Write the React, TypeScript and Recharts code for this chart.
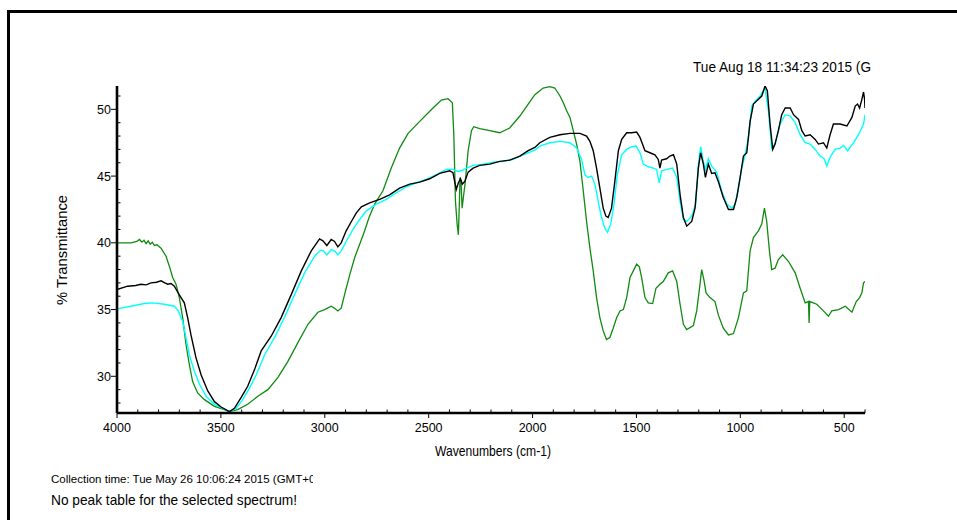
import { LineChart, Line, XAxis, YAxis } from 'recharts'

// FTIR spectra: [wavenumber cm-1, %T]
const blackSpectrum: [number, number][] = [
  [4000, 36.5], [3949, 36.75], [3910, 36.8], [3885, 36.9], [3860, 36.85], [3836, 37.0], [3810, 37.05],
  [3788, 37.15], [3770, 37.0], [3756, 36.9], [3740, 36.95], [3724, 36.75], [3700, 36.1], [3676, 35.5],
  [3660, 34.4], [3644, 33.1], [3620, 31.4], [3595, 30.1], [3563, 28.9], [3531, 28.1], [3499, 27.7],
  [3459, 27.35], [3435, 27.6], [3403, 28.4], [3371, 29.25], [3338, 30.5], [3306, 31.9], [3258, 33.0],
  [3210, 34.4], [3162, 36.1], [3113, 37.9], [3065, 39.4], [3025, 40.3], [3009, 40.15], [2990, 39.8],
  [2969, 40.25], [2953, 40.1], [2937, 39.7], [2921, 40.0], [2897, 40.9], [2872, 41.6], [2848, 42.25],
  [2824, 42.7], [2784, 43.0], [2736, 43.25], [2688, 43.6], [2640, 44.1], [2591, 44.4], [2543, 44.55],
  [2495, 44.8], [2447, 45.2], [2399, 45.4], [2383, 45.25], [2375, 44.6], [2367, 44.0], [2357, 44.5],
  [2347, 44.8], [2338, 44.4], [2326, 44.6], [2310, 45.3], [2286, 45.6], [2254, 45.8], [2206, 45.9],
  [2158, 46.1], [2110, 46.2], [2061, 46.5], [2021, 46.9], [1989, 47.15], [1965, 47.5], [1917, 47.9],
  [1868, 48.1], [1820, 48.2], [1772, 48.2], [1740, 48.0], [1724, 47.6], [1708, 46.9], [1692, 45.6],
  [1676, 44.1], [1660, 42.6], [1647, 42.0], [1636, 41.9], [1620, 42.6], [1604, 44.6], [1587, 46.9],
  [1571, 47.75], [1547, 48.25], [1523, 48.25], [1499, 48.3], [1483, 47.9], [1459, 46.9], [1435, 46.75],
  [1411, 46.6], [1395, 46.25], [1387, 45.6], [1379, 46.2], [1355, 46.3], [1339, 46.5], [1322, 46.6],
  [1306, 45.9], [1290, 43.6], [1274, 41.9], [1258, 41.25], [1234, 41.6], [1218, 42.6], [1202, 45.6],
  [1191, 46.75], [1178, 45.9], [1168, 44.9], [1154, 45.9], [1138, 45.2], [1122, 45.25], [1106, 44.6],
  [1082, 43.4], [1057, 42.5], [1033, 42.5], [1017, 43.4], [1001, 44.9], [985, 46.5], [969, 46.75],
  [953, 49.1], [937, 50.4], [913, 50.75], [897, 51.0], [881, 51.75], [870, 51.4], [857, 48.9],
  [844, 47.0], [833, 47.4], [817, 48.4], [801, 49.6], [784, 50.1], [760, 50.1], [744, 49.6],
  [720, 49.25], [704, 48.4], [688, 48.0], [664, 48.1], [640, 47.75], [624, 47.4], [600, 47.5],
  [584, 47.1], [568, 48.1], [552, 48.9], [520, 48.9], [487, 48.75], [463, 49.4], [447, 50.25],
  [436, 50.4], [426, 50.1], [415, 50.75], [407, 51.3], [402, 50.75], [400, 50.1],
]

const cyanSpectrum: [number, number][] = [
  [4000, 35.05], [3933, 35.25], [3868, 35.45], [3828, 35.5], [3772, 35.4], [3724, 35.25], [3705, 34.9],
  [3684, 34.1], [3668, 32.9], [3652, 31.6], [3628, 30.4], [3603, 29.4], [3571, 28.5], [3531, 27.9],
  [3491, 27.6], [3459, 27.35], [3427, 27.6], [3395, 28.25], [3363, 29.1], [3330, 30.1], [3290, 31.6],
  [3242, 32.9], [3194, 34.4], [3146, 36.1], [3097, 37.75], [3049, 39.0], [3020, 39.45], [3006, 39.4],
  [2990, 39.1], [2969, 39.5], [2953, 39.4], [2937, 39.1], [2921, 39.4], [2897, 40.1], [2864, 41.0],
  [2832, 41.75], [2800, 42.4], [2752, 42.9], [2704, 43.25], [2656, 43.75], [2607, 44.2], [2559, 44.5],
  [2511, 44.75], [2463, 45.1], [2415, 45.5], [2383, 45.5], [2359, 45.35], [2342, 45.4], [2318, 45.6],
  [2286, 45.8], [2238, 45.9], [2190, 46.05], [2142, 46.1], [2094, 46.25], [2045, 46.6], [1989, 46.95],
  [1965, 47.25], [1917, 47.5], [1868, 47.6], [1820, 47.5], [1788, 47.1], [1764, 46.25], [1748, 45.1],
  [1732, 44.9], [1716, 45.0], [1700, 44.4], [1684, 43.1], [1668, 41.9], [1652, 41.1], [1639, 40.8],
  [1624, 41.4], [1608, 42.9], [1592, 45.1], [1571, 46.6], [1547, 47.0], [1523, 47.2], [1502, 47.25],
  [1483, 46.75], [1467, 45.9], [1443, 45.7], [1419, 45.6], [1403, 45.5], [1390, 44.5], [1379, 45.4],
  [1355, 45.5], [1326, 45.6], [1306, 44.9], [1290, 43.1], [1274, 41.75], [1258, 41.6], [1234, 42.0],
  [1215, 42.9], [1202, 45.9], [1191, 47.2], [1178, 46.1], [1168, 45.5], [1154, 46.3], [1138, 45.75],
  [1114, 45.3], [1090, 43.9], [1066, 42.9], [1041, 42.6], [1025, 42.9], [1009, 44.1], [993, 45.6],
  [977, 46.6], [961, 47.9], [945, 50.25], [929, 50.6], [905, 51.0], [881, 51.6], [865, 49.9],
  [849, 47.1], [833, 47.4], [809, 48.9], [784, 49.6], [760, 49.5], [736, 49.0], [712, 48.1],
  [688, 47.5], [664, 47.4], [640, 47.0], [616, 46.5], [597, 46.3], [584, 45.75], [568, 46.4],
  [544, 47.0], [520, 47.1], [503, 47.3], [484, 46.9], [455, 47.5], [431, 48.1], [407, 48.9], [400, 49.6],
]

const greenSpectrum: [number, number][] = [
  [4000, 40.0], [3933, 40.0], [3905, 40.1], [3892, 40.25], [3880, 40.05], [3870, 40.2], [3860, 39.95],
  [3850, 40.15], [3840, 39.9], [3830, 40.05], [3820, 39.8], [3808, 39.85], [3788, 39.6], [3764, 39.0],
  [3748, 38.25], [3732, 37.4], [3716, 36.9], [3700, 35.9], [3684, 34.4], [3668, 32.4], [3652, 30.9],
  [3636, 29.6], [3612, 28.75], [3579, 28.25], [3531, 27.75], [3483, 27.5], [3459, 27.35], [3419, 27.5],
  [3371, 27.9], [3322, 28.5], [3274, 29.0], [3226, 29.9], [3178, 31.1], [3130, 32.5], [3081, 33.9],
  [3033, 34.8], [3001, 35.0], [2969, 35.25], [2953, 35.1], [2937, 34.9], [2921, 35.1], [2905, 36.1],
  [2880, 37.6], [2856, 38.9], [2832, 39.9], [2808, 40.9], [2787, 41.9], [2760, 42.9], [2720, 43.9],
  [2680, 45.6], [2640, 47.1], [2599, 48.2], [2543, 49.1], [2479, 50.1], [2439, 50.7], [2407, 50.8],
  [2386, 50.5], [2379, 48.1], [2371, 43.1], [2363, 41.4], [2357, 40.6], [2352, 43.1], [2349, 44.9],
  [2344, 44.4], [2339, 42.6], [2333, 43.4], [2325, 44.4], [2310, 46.9], [2294, 48.4], [2283, 48.7],
  [2254, 48.55], [2206, 48.4], [2158, 48.25], [2110, 48.6], [2061, 49.5], [2021, 50.4], [1989, 51.1],
  [1949, 51.6], [1917, 51.7], [1893, 51.6], [1868, 51.0], [1852, 50.5], [1836, 49.9], [1820, 49.4],
  [1804, 48.4], [1788, 47.4], [1772, 46.1], [1756, 43.9], [1740, 41.6], [1724, 39.6], [1708, 37.9],
  [1692, 35.9], [1676, 34.4], [1660, 33.4], [1644, 32.75], [1628, 32.9], [1612, 33.6], [1595, 34.4],
  [1579, 34.9], [1563, 35.0], [1547, 35.9], [1531, 37.4], [1515, 37.9], [1499, 38.4], [1486, 38.2],
  [1475, 37.4], [1459, 35.9], [1443, 35.5], [1422, 35.45], [1406, 36.6], [1387, 36.9], [1371, 37.1],
  [1347, 37.75], [1326, 37.9], [1306, 37.1], [1290, 35.4], [1274, 33.9], [1258, 33.5], [1226, 33.8],
  [1210, 34.9], [1194, 36.9], [1186, 38.0], [1175, 37.2], [1165, 36.25], [1146, 35.9], [1122, 35.6],
  [1106, 34.6], [1082, 33.6], [1057, 33.1], [1033, 33.2], [1009, 34.4], [985, 36.25], [969, 36.4],
  [953, 39.4], [937, 40.4], [913, 40.9], [897, 41.4], [884, 42.6], [873, 41.6], [860, 39.4],
  [849, 38.0], [833, 38.1], [817, 38.75], [796, 39.1], [768, 38.6], [736, 37.75], [712, 36.6],
  [688, 35.5], [672, 35.6], [669, 34.0], [666, 35.6], [632, 35.4], [600, 34.9], [576, 34.5],
  [560, 34.9], [527, 35.0], [495, 35.25], [463, 34.8], [442, 35.6], [426, 35.9], [415, 36.25],
  [407, 37.0], [400, 37.1],
]

const X_MAJOR = [4000, 3500, 3000, 2500, 2000, 1500, 1000, 500]
const Y_MAJOR = [30, 35, 40, 45, 50]

const toRows = (s: [number, number][]) => s.map(([wn, t]) => ({ wn, t }))

const xTicks: number[] = []
for (let w = 4000; w >= 400; w -= 100) xTicks.push(w)
const yTicks: number[] = []
for (let t = 28; t <= 51; t++) yTicks.push(t)

const FONT = "'Liberation Sans', Arial, sans-serif"

function XTick(props: any) {
  const { x, y, payload } = props
  const major = X_MAJOR.includes(payload.value)
  return (
    <g>
      {major ? (
        <line x1={x} x2={x} y1={y} y2={y + 5} stroke="#000" strokeWidth={1} />
      ) : (
        <line x1={x} x2={x} y1={y - 3.5} y2={y} stroke="#000" strokeWidth={1} />
      )}
      {major && (
        <text x={x} y={y + 19} textAnchor="middle" fontFamily={FONT} fontSize={12.5} fill="#000">
          {payload.value}
        </text>
      )}
    </g>
  )
}

function YTick(props: any) {
  const { x, y, payload } = props
  const major = Y_MAJOR.includes(payload.value)
  return (
    <g>
      {major ? (
        <line x1={x - 6} x2={x} y1={y} y2={y} stroke="#000" strokeWidth={1} />
      ) : (
        <line x1={x} x2={x + 3.5} y1={y} y2={y} stroke="#000" strokeWidth={1} />
      )}
      {major && (
        <text x={x - 6} y={y + 4.5} textAnchor="end" fontFamily={FONT} fontSize={12.5} fill="#000">
          {payload.value}
        </text>
      )}
    </g>
  )
}

export default function App() {
  return (
    <div
      style={{
        position: 'absolute',
        left: 0,
        top: 0,
        width: 957,
        height: 520,
        background: '#fff',
        overflow: 'hidden',
      }}
    >
      <LineChart
        width={957}
        height={520}
        margin={{ top: 86, right: 92, bottom: 0, left: 0 }}
        style={{ position: 'absolute', left: 0, top: 0 }}
      >
        <XAxis
          dataKey="wn"
          type="number"
          domain={[400, 4000]}
          reversed
          allowDataOverflow
          ticks={xTicks}
          interval={0}
          tickSize={0}
          tickMargin={0}
          tickLine={false}
          tick={<XTick />}
          height={107}
          axisLine={{ stroke: '#000', strokeWidth: 2.6 }}
        />
        <YAxis
          type="number"
          domain={[27.25, 51.75]}
          allowDataOverflow
          ticks={yTicks}
          interval={0}
          tickSize={0}
          tickMargin={0}
          tickLine={false}
          tick={<YTick />}
          width={117}
          axisLine={{ stroke: '#000', strokeWidth: 2.6 }}
        />
        <Line
          data={toRows(greenSpectrum)}
          dataKey="t"
          type="linear"
          stroke="#118a11"
          strokeWidth={1.3}
          dot={false}
          isAnimationActive={false}
        />
        <Line
          data={toRows(cyanSpectrum)}
          dataKey="t"
          type="linear"
          stroke="#00ffff"
          strokeWidth={1.4}
          dot={false}
          isAnimationActive={false}
        />
        <Line
          data={toRows(blackSpectrum)}
          dataKey="t"
          type="linear"
          stroke="#000"
          strokeWidth={1.4}
          dot={false}
          isAnimationActive={false}
        />
      </LineChart>

      <svg
        width={957}
        height={520}
        style={{ position: 'absolute', left: 0, top: 0, pointerEvents: 'none' }}
      >
        <defs>
          <clipPath id="collectClip">
            <rect x={0} y={460} width={313} height={30} />
          </clipPath>
        </defs>
        {/* window frame */}
        <line x1={8.5} y1={10} x2={8.5} y2={520} stroke="#000" strokeWidth={3} />
        <line x1={7} y1={11.5} x2={957} y2={11.5} stroke="#000" strokeWidth={3} />

        <text
          x={693}
          y={72}
          fontFamily={FONT}
          fontSize={15}
          textLength={178}
          lengthAdjust="spacingAndGlyphs"
          fill="#000"
        >
          Tue Aug 18 11:34:23 2015 (G
        </text>

        <text
          transform="translate(67 250) rotate(-90)"
          textAnchor="middle"
          fontFamily={FONT}
          fontSize={14.5}
          textLength={110}
          lengthAdjust="spacingAndGlyphs"
          fill="#000"
        >
          % Transmittance
        </text>

        <text
          x={435}
          y={456}
          fontFamily={FONT}
          fontSize={14.5}
          textLength={116}
          lengthAdjust="spacingAndGlyphs"
          fill="#000"
        >
          Wavenumbers (cm-1)
        </text>

        <g clipPath="url(#collectClip)">
          <text x={51} y={483} fontFamily={FONT} fontSize={11.5} fill="#000">
            Collection time: Tue May 26 10:06:24 2015 (GMT+0
          </text>
        </g>

        <text
          x={51}
          y={505}
          fontFamily={FONT}
          fontSize={14.5}
          textLength={246}
          lengthAdjust="spacingAndGlyphs"
          fill="#000"
        >
          No peak table for the selected spectrum!
        </text>
      </svg>
    </div>
  )
}
